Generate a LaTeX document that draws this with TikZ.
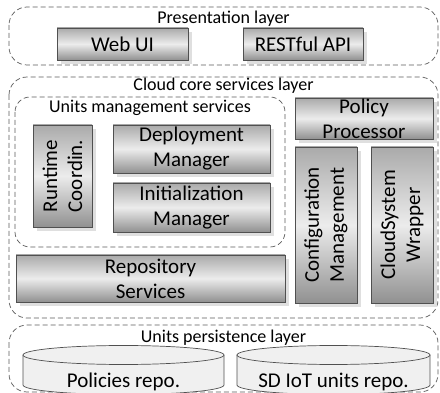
\documentclass[tikz,border=0pt]{standalone}
\usepackage{fontspec}
\setmainfont{Carlito}
\definecolor{edgegray}{RGB}{80,80,80}
\definecolor{dashgray}{RGB}{90,90,90}
\definecolor{shadegray}{RGB}{170,170,170}
\definecolor{shadelight}{RGB}{236,236,236}
\definecolor{cylfill}{RGB}{240,240,240}
\usetikzlibrary{shadows}

\begin{document}
\begin{tikzpicture}[
        x=1pt, y=-1pt,
        every node/.style={align=center, inner sep=0pt},
        layer/.style={draw=dashgray, dash pattern=on 5pt off 3pt, line width=0.7pt, rounded corners=18pt},
        title/.style={font=\fontsize{18}{21}\selectfont},
        box/.style={draw=edgegray, line width=0.9pt, top color=shadegray, bottom color=shadegray!85!black, middle color=shadelight,
          font=\fontsize{21}{25}\selectfont,
          drop shadow={shadow xshift=4pt, shadow yshift=-4pt, fill=gray!25, opacity=1}},
        repolabel/.style={font=\fontsize{21}{25}\selectfont},
        cyl/.style={draw=edgegray, line width=0.7pt, fill=cylfill}
      ]
      \useasboundingbox (0,0) rectangle (440,393);

      % layers
      \draw[layer] (9,7) rectangle (438,65);
      \draw[layer] (9,77) rectangle (438,318);
      \draw[layer, rounded corners=15pt] (15,97) rectangle (285,247);
      \draw[layer] (9,325) rectangle (438,392);

      \node[title] (prestitle) at (223.5,19) {Presentation layer};
      \node[title] (coretitle) at (223.5,86) {Cloud core services layer};
      \node[title] (unitstitle) at (150,108) {Units management services};
      \node[title] (persisttitle) at (223.5,338) {Units persistence layer};

      % presentation
      \node[box, minimum width=131pt, minimum height=32pt] (webui) at (122.5,44) {Web UI};
      \node[box, minimum width=120pt, minimum height=32pt] (restapi) at (303,44) {RESTful API};

      % units management
      \node[box, rotate=90, minimum width=102pt, minimum height=59pt] (runtime) at (62.5,176) {Runtime\\Coordin.};
      \node[box, minimum width=157pt, minimum height=48pt] (deploy) at (191.5,149) {Deployment\\Manager};
      \node[box, minimum width=157pt, minimum height=49pt] (init) at (191.5,207.5) {Initialization\\Manager};
      \node[box, minimum width=269pt, minimum height=47pt] (repo) at (150.5,278.5) {Repository\\Services};

      % right column
      \node[box, minimum width=138pt, minimum height=41pt] (policy) at (364,118.5) {Policy\\Processor};
      \node[box, rotate=90, minimum width=156pt, minimum height=62pt] (config) at (326,225) {Configuration\\Management};
      \node[box, rotate=90, minimum width=156pt, minimum height=62pt] (cswrap) at (402,225) {CloudSystem\\Wrapper};

      % repositories
      \draw[cyl] (23,355) -- (23,385) arc[start angle=180, end angle=360, x radius=100.5pt, y radius=9.5pt] -- (224,355);
      \draw[cyl] (123.5,355) ellipse[x radius=100.5pt, y radius=9.5pt];
      \node[repolabel] (polrepo) at (123.5,382) {Policies repo.};

      \draw[cyl] (237,355) -- (237,385) arc[start angle=180, end angle=360, x radius=96.5pt, y radius=9.5pt] -- (430,355);
      \draw[cyl] (333.5,355) ellipse[x radius=96.5pt, y radius=9.5pt];
      \node[repolabel] (iotrepo) at (333.5,382) {SD IoT units repo.};
    \end{tikzpicture}
\end{document}
